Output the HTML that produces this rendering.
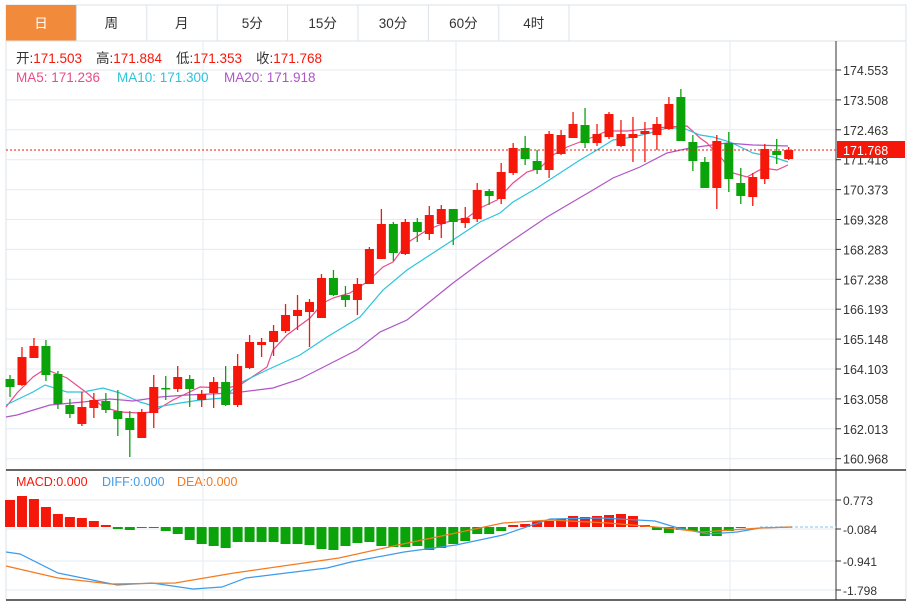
<!DOCTYPE html>
<html><head><meta charset="utf-8">
<style>
body{margin:0;background:#fff;width:912px;height:602px;overflow:hidden;font-family:"Liberation Sans","Noto Sans CJK SC",sans-serif}
svg{display:block}
</style></head><body>
<svg id="s" width="912" height="602" xmlns="http://www.w3.org/2000/svg" font-family="Liberation Sans, Noto Sans CJK SC, sans-serif">
</svg>
<script>
var s=document.getElementById('s'),h='';
function L(x1,y1,x2,y2,c,w,d){h+='<line x1="'+x1+'" y1="'+y1+'" x2="'+x2+'" y2="'+y2+'" stroke="'+c+'" stroke-width="'+(w||1)+'"'+(d?' stroke-dasharray="'+d+'"':'')+'/>';}
function T(x,y,t,c,sz,a){h+='<text x="'+x+'" y="'+y+'" fill="'+c+'" font-size="'+(sz||12)+'"'+(a?' text-anchor="'+a+'"':'')+'>'+t+'</text>';}
function P(pts,c){h+='<polyline fill="none" stroke="'+c+'" stroke-width="1.2" points="'+pts.map(function(p){return p.join(',')}).join(' ')+'"/>';}
// tabs
h+='<rect x="6" y="5" width="900" height="36" fill="#fff" stroke="#dde3ea"/>';
h+='<rect x="6" y="5" width="71" height="36" fill="#f28a3c"/>';
var tabs=['日','周','月','5分','15分','30分','60分','4时'];
for(var i=0;i<8;i++){var x0=6+i*70.4;if(i>0)L(x0,5,x0,41,'#dde3ea');T(x0+35,28,tabs[i],i==0?'#fff':'#333',13.5,'middle');}
L(569,5,569,41,'#dde3ea');
// grid
for(var i=0;i<14;i++){var y=70+i*29.9;L(6,y,836,y,'#e3ebf2');}
[203,456,730].forEach(function(x){L(x,41,x,600,'#e3ebf2')});
[500,529,561,590].forEach(function(y){L(6,y,836,y,'#e3ebf2')});
L(6,41,6,600,'#dde3ea');L(906,41,906,600,'#dde3ea');
L(6,41,906,41,'#dde3ea');
// legend
[[16,'开:','171.503'],[96,'高:','171.884'],[176,'低:','171.353'],[256,'收:','171.768']].forEach(function(a){h+='<text x="'+a[0]+'" y="63" font-size="13.5"><tspan fill="#333">'+a[1]+'</tspan><tspan fill="#f5170a">'+a[2]+'</tspan></text>';});
T(16,82,'MA5: 171.236','#ea4c89',13.5);T(117,82,'MA10: 171.300','#2cc4dc',13.5);T(224,82,'MA20: 171.918','#b055c8',13.5);
// axis
L(836,41,836,600,'#333');
var pl=['174.553','173.508','172.463','171.418','170.373','169.328','168.283','167.238','166.193','165.148','164.103','163.058','162.013','160.968'];
for(var i=0;i<14;i++){var y=70+i*29.9;L(836,y,841,y,'#333');T(843,y+5,pl[i],'#333',12.5);}
// MA lines
P([[6,407],[17,393],[33,377],[45,369],[67,378],[87,393],[103,407],[120,412],[140,413],[153,412],[173,400],[200,387],[227,388],[240,385],[267,367],[273,350],[287,335],[310,318],[323,303],[333,298],[350,293],[367,282],[383,267],[393,262],[407,243],[427,230],[447,222],[467,218],[480,208],[497,200],[513,183],[527,172],[540,168],[553,155],[567,147],[580,142],[593,137],[607,131],[627,131],[647,129],[667,127],[687,126],[700,138],[707,143],[723,160],[733,173],[747,177],[763,168],[777,170],[788,165]],'#ea4c89');
P([[6,405],[33,392],[45,385],[67,392],[83,392],[103,388],[120,393],[140,402],[157,407],[180,403],[200,400],[223,398],[240,383],[267,370],[300,355],[327,337],[360,317],[383,290],[407,270],[433,253],[453,240],[480,222],[500,213],[513,202],[537,188],[560,173],[580,160],[597,150],[613,140],[633,137],[650,133],[667,128],[683,128],[700,135],[713,137],[730,142],[753,153],[773,157],[788,162]],'#2cc4dc');
P([[6,417],[17,415],[50,405],[83,402],[110,399],[133,401],[160,397],[187,395],[233,393],[273,388],[300,379],[357,350],[380,332],[407,320],[453,283],[480,263],[513,240],[547,217],[593,190],[613,178],[640,167],[667,153],[690,148],[727,143],[753,145],[788,146]],'#b055c8');
// candles
var C=[[379,387,375,397,'g'],[357,385,347,386,'r'],[346,358,338,358,'r'],[346,375,340,381,'g'],[374,404,371,409,'g'],[405,414,399,418,'g'],[407,424,392,426,'r'],[400,408,393,418,'r'],[401,410,393,413,'g'],[411,419,390,436,'g'],[418,430,411,457,'g'],[412,438,409,438,'r'],[387,413,375,428,'r'],[388,389,376,400,'g'],[377,389,366,392,'r'],[379,389,375,407,'g'],[394,400,390,407,'r'],[382,393,377,408,'r'],[382,405,366,406,'g'],[366,405,354,407,'r'],[342,368,335,369,'r'],[342,345,338,357,'r'],[331,342,325,356,'r'],[315,331,304,333,'r'],[310,316,295,330,'r'],[302,312,299,347,'r'],[278,318,274,318,'r'],[278,295,270,296,'g'],[295,300,286,307,'g'],[284,300,278,315,'r'],[249,284,247,284,'r'],[224,259,209,259,'r'],[224,253,222,261,'g'],[222,254,219,255,'r'],[222,232,218,242,'g'],[215,234,206,240,'r'],[209,224,205,238,'r'],[209,222,209,245,'g'],[218,223,207,228,'r'],[190,219,183,222,'r'],[191,196,189,205,'g'],[172,199,163,204,'r'],[148,173,143,175,'r'],[148,159,136,165,'g'],[161,170,150,174,'g'],[134,170,131,178,'r'],[135,154,130,155,'r'],[124,138,112,138,'r'],[125,143,108,148,'g'],[134,143,124,146,'r'],[114,137,112,139,'r'],[134,146,120,147,'r'],[134,138,117,162,'r'],[131,134,122,162,'r'],[124,135,117,150,'r'],[104,129,97,130,'r'],[97,141,89,141,'g'],[142,161,135,171,'g'],[162,188,157,188,'g'],[141,188,135,209,'r'],[143,179,132,192,'g'],[183,196,168,204,'g'],[177,197,173,206,'r'],[149,179,144,184,'r'],[151,155,139,164,'g'],[150,159,147,160,'r']];
C.forEach(function(c,i){var x=10+i*11.98,col=c[4]=='r'?'#f5170a':'#0aa30a';L(x,c[2],x,c[3],col,1.3);h+='<rect x="'+(x-4.5)+'" y="'+c[0]+'" width="9" height="'+Math.max(1.5,c[1]-c[0])+'" fill="'+col+'"/>';});
// current price
L(6,150,836,150,'#f5170a',1,'2,2');
h+='<rect x="837" y="141" width="68" height="17" fill="#f5170a"/>';T(843,155,'171.768','#fff',12.5);
// MACD panel
L(6,470,906,470,'#333',1.5);L(6,600,906,600,'#333',1.5);
T(16,486,'MACD:0.000','#f5170a',12.5);T(102,486,'DIFF:0.000','#3d9be9',12.5);T(177,486,'DEA:0.000','#f47a1f',12.5);
var ml=['0.773','-0.084','-0.941','-1.798'];[500,529,561,590].forEach(function(y,i){L(836,y,841,y,'#333');T(843,y+5,ml[i],'#333',12);});
var B=[500,496,499,507,514,517,518,521,525,529,530,528,528,531,534,540,544,546,548,542,542,542,542,544,544,545,549,550,546,543,542,546,547,547,546,550,548,544,541,534,534,531,525,524,521,521,519,516,517,516,515,514,516,525,530,533,530,531,536,536,531,528];
var z=527;B.forEach(function(y,i){var x=10+i*11.98,col=y<z?'#f5170a':'#0aa30a';var t=Math.min(y,z),hh=Math.max(1,Math.abs(y-z));h+='<rect x="'+(x-5)+'" y="'+t+'" width="10" height="'+hh+'" fill="'+col+'"/>';});
L(760,527,836,527,'#a8d8f0',1.5,'3,2');
P([[6,552],[20,554],[58,573],[117,585],[152,583],[193,589],[222,587],[246,578],[327,568],[351,562],[404,552],[456,545],[503,535],[550,519],[602,518],[655,521],[678,528],[708,534],[737,532],[760,528],[792,527]],'#3d9be9');
P([[6,566],[58,578],[111,584],[175,583],[234,573],[339,558],[398,545],[456,533],[503,523],[550,520],[608,523],[667,528],[702,532],[760,528],[792,527]],'#f47a1f');
s.innerHTML=h;
</script>
</body></html>
